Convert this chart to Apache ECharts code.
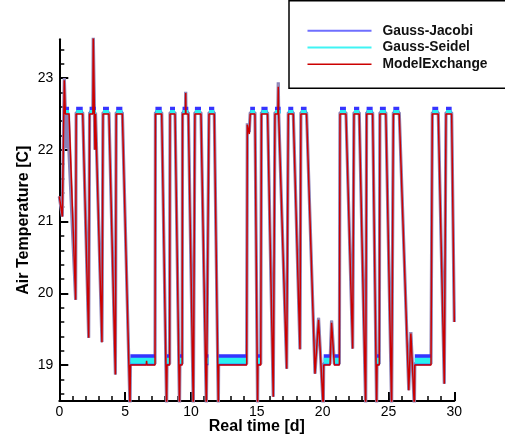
<!DOCTYPE html>
<html><head><meta charset="utf-8">
<script src="https://cdn.jsdelivr.net/npm/echarts@6/dist/echarts.min.js"></script>
<style>html,body{margin:0;padding:0;background:#fff}#c{width:505px;height:438px}</style>
</head><body><div id="c"></div>
<script>
const seriesNames = ['Gauss-Jacobi', 'Gauss-Seidel', 'ModelExchange'];
const xTicks = [0, 5, 10, 15, 20, 25, 30];
const yTicks = [19, 20, 21, 22, 23];
const yMinorTicks = [18.6, 18.8, 19.2, 19.4, 19.6, 19.8, 20.2, 20.4, 20.6, 20.8, 21.2, 21.4, 21.6, 21.8, 22.2, 22.4, 22.6, 22.8, 23.2, 23.4];

const modelExchange = [
  [0.00,21.35],[0.23,21.07],[0.38,22.97],[0.46,22.50],[0.74,22.50],[1.24,19.91],[1.28,22.50],[1.78,22.50],
  [2.23,19.38],[2.30,22.50],[2.55,22.50],[2.58,23.60],[2.71,22.00],[2.75,22.50],[2.80,22.50],[3.24,19.32],
  [3.32,22.50],[3.77,22.50],[4.26,18.87],[4.32,22.50],[4.79,22.50],[5.37,18.40],[5.40,19.00],[6.60,19.00],
  [6.63,19.06],[6.66,19.00],[7.27,19.00],[7.30,22.50],[7.78,22.50],[8.15,18.40],[8.18,19.00],[8.38,19.00],
  [8.41,22.50],[8.79,22.50],[9.13,18.40],[9.16,19.00],[9.33,19.00],[9.36,22.50],[9.58,22.50],[9.60,22.79],
  [9.62,22.50],[9.80,22.50],[10.18,18.40],[10.30,22.50],[10.76,22.50],[11.17,18.40],[11.20,19.00],[11.33,19.00],
  [11.37,22.50],[11.77,22.50],[12.08,18.40],[12.10,19.00],[14.23,19.00],[14.28,22.35],[14.43,22.22],[14.50,22.50],
  [14.86,22.50],[15.06,18.40],[15.08,19.00],[15.30,19.00],[15.35,22.50],[15.82,22.50],[16.25,18.56],[16.38,22.50],
  [16.60,22.50],[16.63,22.88],[16.66,22.50],[16.81,22.50],[17.27,18.95],[17.39,22.50],[17.77,22.50],[18.28,19.22],
  [18.35,22.50],[18.78,22.50],[19.42,18.88],[19.69,19.63],[20.05,18.40],[20.08,19.00],[20.56,19.00],[20.68,19.59],
  [20.89,19.00],[21.27,19.00],[21.32,22.50],[21.77,22.50],[22.28,19.23],[22.38,22.50],[22.78,22.50],[23.27,18.40],
  [23.34,22.50],[23.80,22.50],[24.10,18.40],[24.13,19.00],[24.30,19.00],[24.35,22.50],[24.80,22.50],[25.24,18.40],
  [25.37,22.50],[25.82,22.50],[26.54,18.65],[26.70,19.44],[26.97,18.40],[27.00,19.00],[28.23,19.00],[28.33,22.50],
  [28.78,22.50],[29.24,18.74],[29.37,22.50],[29.80,22.50],[30.00,19.60]
];
const gaussJacobi = [
  [0.00,21.35],[0.23,21.07],[0.38,23.00],[0.46,22.52],[0.53,22.02],[0.60,22.52],[0.74,22.52],[1.24,19.91],[1.28,22.52],[1.78,22.52],
  [2.23,19.38],[2.30,22.52],[2.55,22.52],[2.58,23.60],[2.71,22.00],[2.75,22.52],[2.80,22.52],[3.24,19.32],
  [3.32,22.52],[3.77,22.52],[4.26,18.87],[4.32,22.52],[4.79,22.52],[5.37,18.40],[5.40,19.02],[7.27,19.02],
  [7.30,22.52],[7.78,22.52],[8.15,18.40],[8.18,19.02],[8.38,19.02],
  [8.41,22.52],[8.79,22.52],[9.13,18.40],[9.16,19.02],[9.33,19.02],[9.36,22.52],[9.58,22.52],[9.60,22.81],
  [9.62,22.52],[9.80,22.52],[10.18,18.40],[10.30,22.52],[10.76,22.52],[11.17,18.40],[11.20,19.02],[11.33,19.02],
  [11.37,22.52],[11.77,22.52],[12.08,18.40],[12.10,19.02],[14.23,19.02],[14.28,22.37],[14.43,22.25],[14.50,22.52],
  [14.86,22.52],[15.06,18.40],[15.08,19.02],[15.30,19.02],[15.35,22.52],[15.82,22.52],[16.25,18.56],[16.38,22.52],
  [16.60,22.52],[16.63,22.94],[16.66,22.52],[16.81,22.52],[17.27,18.95],[17.39,22.52],[17.77,22.52],[18.28,19.22],
  [18.35,22.52],[18.78,22.52],[19.42,18.88],[19.69,19.66],[20.05,18.40],[20.08,19.02],[20.56,19.02],[20.68,19.62],
  [20.89,19.02],[21.27,19.02],[21.32,22.52],[21.77,22.52],[22.28,19.23],[22.38,22.52],[22.78,22.52],[23.27,18.40],
  [23.34,22.52],[23.80,22.52],[24.10,18.40],[24.13,19.02],[24.30,19.02],[24.35,22.52],[24.80,22.52],[25.24,18.40],
  [25.37,22.52],[25.82,22.52],[26.54,18.65],[26.70,19.46],[26.97,18.40],[27.00,19.02],[28.23,19.02],[28.33,22.52],
  [28.78,22.52],[29.24,18.74],[29.37,22.52],[29.80,22.52],[30.00,19.60]
];
const gaussSeidel = [
  [0.00,21.35],[0.23,21.07],[0.38,23.00],[0.46,22.51],[0.74,22.51],[1.24,19.91],[1.28,22.51],[1.78,22.51],
  [2.23,19.38],[2.30,22.51],[2.55,22.51],[2.58,23.60],[2.71,22.00],[2.75,22.51],[2.80,22.51],[3.24,19.32],
  [3.32,22.51],[3.77,22.51],[4.26,18.87],[4.32,22.51],[4.79,22.51],[5.37,18.40],[5.40,19.02],[7.27,19.02],
  [7.30,22.51],[7.78,22.51],[8.15,18.40],[8.18,19.02],[8.38,19.02],
  [8.41,22.51],[8.79,22.51],[9.13,18.40],[9.16,19.02],[9.33,19.02],[9.36,22.51],[9.58,22.51],[9.60,22.80],
  [9.62,22.51],[9.80,22.51],[10.18,18.40],[10.30,22.51],[10.76,22.51],[11.17,18.40],[11.20,19.02],[11.33,19.02],
  [11.37,22.51],[11.77,22.51],[12.08,18.40],[12.10,19.02],[14.23,19.02],[14.28,22.36],[14.43,22.24],[14.50,22.51],
  [14.86,22.51],[15.06,18.40],[15.08,19.02],[15.30,19.02],[15.35,22.51],[15.82,22.51],[16.25,18.56],[16.38,22.51],
  [16.60,22.51],[16.63,22.92],[16.66,22.51],[16.81,22.51],[17.27,18.95],[17.39,22.51],[17.77,22.51],[18.28,19.22],
  [18.35,22.51],[18.78,22.51],[19.42,18.88],[19.69,19.66],[20.05,18.40],[20.08,19.02],[20.56,19.02],[20.68,19.62],
  [20.89,19.02],[21.27,19.02],[21.32,22.51],[21.77,22.51],[22.28,19.23],[22.38,22.51],[22.78,22.51],[23.27,18.40],
  [23.34,22.51],[23.80,22.51],[24.10,18.40],[24.13,19.02],[24.30,19.02],[24.35,22.51],[24.80,22.51],[25.24,18.40],
  [25.37,22.51],[25.82,22.51],[26.54,18.65],[26.70,19.46],[26.97,18.40],[27.00,19.02],[28.23,19.02],[28.33,22.51],
  [28.78,22.51],[29.24,18.74],[29.37,22.51],[29.80,22.51],[30.00,19.60]
];
// periods when the solver noise is visible (start day, end day)
const dayPlateaus = [[0.46,0.74],[1.28,1.78],[2.30,2.78],[3.32,3.77],[4.32,4.79],[7.30,7.78],[8.41,8.79],[9.36,9.80],
  [10.30,10.76],[11.37,11.77],[14.50,14.86],[15.35,15.82],[16.38,16.81],[17.39,17.77],[18.35,18.78],[21.32,21.77],
  [22.38,22.78],[23.34,23.80],[24.35,24.80],[25.37,25.82],[28.33,28.78],[29.37,29.80]];
const nightPlateaus = [[5.40,7.27],[8.18,8.38],[9.16,9.33],[11.20,11.33],[12.10,14.23],[15.08,15.30],[20.08,20.56],
  [20.89,21.27],[24.13,24.30],[27.00,28.23]];
const jacobiNoiseLevel = { day: 22.555, night: 19.075 };
const seidelNoiseLevel = { day: 22.53, night: 19.06 };

function band(blocks, level) {
  const out = [];
  blocks.forEach(b => { out.push([b[0], level], [b[1], level], [b[1], '-']); });
  return out;
}

const FONT = 'Liberation Sans, Arial, Helvetica, sans-serif';
const chart = echarts.init(document.getElementById('c'), null, { renderer: 'canvas' });
const blue = '#3535ff', cyan = '#2af0f0', red = '#cc0000';
const baseLine = { type: 'line', symbol: 'none', showSymbol: false, silent: true, clip: true, animation: false };

chart.setOption({
  animation: false,
  backgroundColor: '#fff',
  grid: { left: 59.3, right: 50.7, top: 39.3, bottom: 37, containLabel: false, outerBoundsMode: 'none' },
  legend: {
    orient: 'vertical', left: 289, top: 0.75,
    padding: [23, 40, 17, 17.5],
    itemWidth: 64, itemHeight: 14, itemGap: 2.7,
    backgroundColor: '#fff', borderColor: '#000', borderWidth: 1.5, borderRadius: 0,
    itemStyle: { opacity: 0 },
    textStyle: { fontFamily: FONT, fontSize: 13.8, fontWeight: 'bold', color: '#111', padding: [0, 0, 0, 6] },
    data: [
      { name: seriesNames[0], itemStyle: { opacity: 0 }, lineStyle: { color: '#6f6fff', width: 2 } },
      { name: seriesNames[1], itemStyle: { opacity: 0 }, lineStyle: { color: '#40f4f4', width: 2 } },
      { name: seriesNames[2], itemStyle: { opacity: 0 }, lineStyle: { color: red, width: 1.5 } }
    ]
  },
  xAxis: {
    type: 'value', min: 0, max: 30, interval: 5,
    name: 'Real time [d]', nameLocation: 'middle', nameGap: 18, nameMoveOverlap: false,
    nameTextStyle: { fontFamily: FONT, fontSize: 16, fontWeight: 'bold', color: '#000' },
    axisLine: { lineStyle: { color: '#000', width: 2 } },
    axisTick: { inside: true, length: 9, lineStyle: { color: '#000', width: 2 } },
    minorTick: { show: true, splitNumber: 5, length: 5, lineStyle: { color: '#000', width: 1.5 } },
    axisLabel: { fontFamily: FONT, fontSize: 14, color: '#000', margin: 4, customValues: xTicks },
    splitLine: { show: false }, minorSplitLine: { show: false }
  },
  yAxis: [{
    type: 'value', min: 18.5, max: 23.54,
    name: 'Air Temperature [C]', nameLocation: 'middle', nameGap: 27.5, nameRotate: 90, nameMoveOverlap: false,
    nameTextStyle: { fontFamily: FONT, fontSize: 16, fontWeight: 'bold', color: '#000' },
    axisLine: { lineStyle: { color: '#000', width: 2 } },
    axisTick: { inside: true, length: 9, lineStyle: { color: '#000', width: 2 }, customValues: yTicks },
    axisLabel: { fontFamily: FONT, fontSize: 14, color: '#000', margin: 6, customValues: yTicks },
    splitLine: { show: false }
  }, {
    type: 'value', min: 18.5, max: 23.54, position: 'left',
    axisLine: { show: false },
    axisTick: { show: true, inside: true, length: 5, lineStyle: { color: '#000', width: 1.5 }, customValues: yMinorTicks },
    axisLabel: { show: false }, splitLine: { show: false }
  }],
  series: [
    Object.assign({}, baseLine, { name: seriesNames[0], data: gaussJacobi, lineStyle: { color: '#8a82b8', width: 3.2 } }),
    Object.assign({}, baseLine, { name: seriesNames[1], data: gaussSeidel, lineStyle: { color: '#9a8fb8', width: 2 } }),
    Object.assign({}, baseLine, { name: seriesNames[0], data: band(dayPlateaus, jacobiNoiseLevel.day), lineStyle: { color: blue, width: 6.5, cap: 'butt' } }),
    Object.assign({}, baseLine, { name: seriesNames[0], data: band(nightPlateaus, jacobiNoiseLevel.night), lineStyle: { color: blue, width: 11, cap: 'butt' } }),
    Object.assign({}, baseLine, { name: seriesNames[1], data: band(dayPlateaus, seidelNoiseLevel.day), lineStyle: { color: cyan, width: 3.5, cap: 'butt' } }),
    Object.assign({}, baseLine, { name: seriesNames[1], data: band(nightPlateaus, seidelNoiseLevel.night), lineStyle: { color: cyan, width: 6, cap: 'butt' } }),
    Object.assign({}, baseLine, { name: seriesNames[2], data: modelExchange, lineStyle: { color: red, width: 1.5 } })
  ]
});
</script></body></html>
